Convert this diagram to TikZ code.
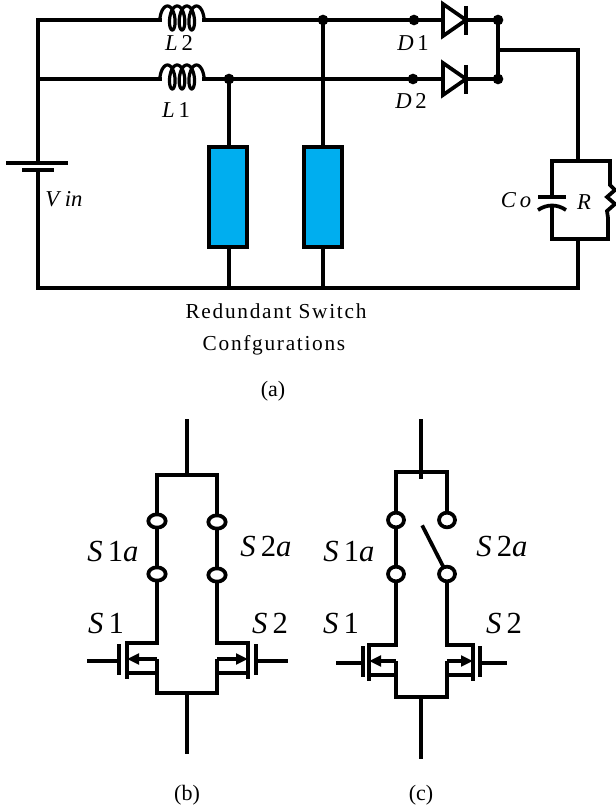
\documentclass[tikz,border=0pt]{standalone}
\usepackage{fontspec}
\setmainfont{Liberation Serif}
\usetikzlibrary{arrows.meta,shapes.geometric}

\definecolor{boxblue}{RGB}{0,174,239}
\tikzset{
  wire/.style={line width=2.8pt,line join=miter,line cap=rect},
  thinwire/.style={line width=2.6pt,line join=miter},
  dot/.style={circle,fill=black,inner sep=0pt,minimum size=8pt},
  redundant/.style={draw,line width=3pt,fill=boxblue,minimum width=28pt,minimum height=75pt,inner sep=0pt},
  pole/.style={ellipse,draw,line width=2.8pt,fill=white,inner sep=0pt,minimum width=13pt,minimum height=10pt},
  polec/.style={pole,minimum width=12pt,minimum height=11pt},
  coilwire/.style={line width=2.4pt,line join=round},
  lab/.style={inner sep=0pt,font=\fontsize{17pt}{20pt}\selectfont},
  big/.style={inner sep=0pt,font=\fontsize{23pt}{26pt}\selectfont},
  caption/.style={inner sep=0pt,font=\fontsize{16pt}{19pt}\selectfont},
  sublabel/.style={inner sep=0pt,font=\fontsize{16.5pt}{19pt}\selectfont}
}

\begin{document}
\begin{tikzpicture}[x=0.75pt,y=-0.75pt]
   \useasboundingbox (0,0) rectangle (616,812);

   % upper circuit
   \draw (229,79) node[dot] (j1) {};
   \draw (323,20) node[dot] (j2) {};
   \draw (414,20) node[dot] (d1in) {};
   \draw (413,79) node[dot] (d2in) {};
   \draw (498,20) node[dot] (d1out) {};
   \draw (498,79) node[dot] (d2out) {};
   \draw (228,197) node[redundant] (sw1) {};
   \draw (323,197) node[redundant] (sw2) {};
   \coordinate (tl) at (38,20);
   \coordinate (ml) at (38,79);
   \coordinate (bl) at (38,288);
   \coordinate (br) at (578,288);
   \coordinate (l2a) at (160,20);
   \coordinate (l2b) at (204,20);
   \coordinate (l1a) at (160,79);
   \coordinate (l1b) at (204,79);
   \coordinate (bat1) at (38,163);
   \coordinate (bat2) at (38,170);
   \coordinate (oa) at (499,50);
   \coordinate (ob) at (578,50);
   \coordinate (rct) at (578,161);
   \coordinate (rcb) at (578,239);

   % inductors
   \foreach \name/\y in {l2/20,l1/79} {
     \draw[coilwire] (\name a) -- plot[domain=-90:1170,samples=160,variable=\t]
       ({182+0.027*(\t-540)+5*sin(\t)},{\y-2-12*cos(\t)}) -- (\name b);
   }
   \draw[wire] (l2a) -- (tl) -- (bat1);
   \draw[wire] (ml) -- (l1a);
   \draw[wire] (l1b) -- (j1) -- (d2in);
   \draw[wire] (l2b) -- (j2) -- (d1in);
   \draw[wire] (j1) -- (sw1.north -| j1);
   \draw[wire] (j2) -- (sw2.north);
   \draw[wire] (sw1.south -| j1) -- (j1 |- bl);
   \draw[wire] (sw2.south) -- (j2 |- bl);
   \draw[wire] (bat2) -- (bl) -- (br) -- (rcb);
   \draw[wire] (d1out) -- (d2out);
   \draw[wire] (oa) -- (ob) -- (rct);

   % battery
   \draw[wire,line cap=butt] (6,163) -- (68,163);
   \draw[wire,line cap=butt] (22,170) -- (54,170);

   % diodes
   \foreach \name/\y in {d1/20,d2/79} {
     \coordinate (\name a) at (443,\y);
     \coordinate (\name k) at (466,\y);
     \draw[wire] (\name in) -- (\name a);
     \draw[wire] (\name k) -- (\name out);
     \draw[wire,fill=white] (443,\y-16) -- (\name k) -- (443,\y+16) -- cycle;
     \draw[wire,line cap=butt] (466,\y-14) -- (466,\y+15);
   }

   % load
   \coordinate (ct) at (552,161);
   \coordinate (cb) at (552,239);
   \coordinate (rt) at (610,161);
   \coordinate (rb) at (608,239);
   \coordinate (c1) at (552,197);
   \coordinate (c2) at (552,206);
   \draw[wire] (c1) -- (ct) -- (rt) -- (610,185) -- (615,190) -- (607,197) -- (615,204) -- (607,211) -- (608,218) -- (rb) -- (cb) -- (c2);
   \draw[wire,line cap=butt] (538,197) -- (566,197);
   \draw[wire,line cap=butt] (538,210) .. controls (547,204) and (557,204) .. (566,210);

   \draw (179,43) node[lab] (L2) {\textit{L}\,2};
   \draw (176,110) node[lab] (L1) {\textit{L}\,1};
   \draw (45,199) node[lab,anchor=west] (Vin) {\textit{V in}};
   \draw (413,43) node[lab] (D1) {\textit{D}\,1};
   \draw (411,101) node[lab] (D2) {\textit{D}\,2};
   \draw (516,200) node[lab] (Co) {\textit{C\,o}};
   \draw (584,202) node[lab] (R) {\textit{R}};
   \draw (276,311) node[caption] (cap1) {\addfontfeature{LetterSpace=8}Redundant Switch};
   \draw (274,345) node[caption] (cap2) {\addfontfeature{LetterSpace=8}Confgurations};
   \draw (273,391) node[sublabel] (capa) {(a)};

   % lower switches
   \foreach \name/\x/\y/\c/\g/\l in {sb1/157/643/-30/-38/-70,sb2/217/643/31/39/71,sc1/396/645/-27/-33/-60,sc2/447/645/26/33/60} {
     \coordinate (\name d) at (\x,\y);
     \coordinate (\name s) at (\x,\y+30);
     \coordinate (\name m) at (\x,\y+16);
     \draw[thinwire] (\name d) -- +(\c,0);
     \draw[thinwire] (\name m) -- (\name s) -- +(\c,0);
     \draw[wire,line cap=butt] (\x+\c,\y-2) -- (\x+\c,\y+36);
     \draw[wire,line cap=butt] (\x+\g,\y+1) -- (\x+\g,\y+32);
     \draw[thinwire] (\x+\g,\y+18) -- (\x+\l,\y+18);
     \draw[thinwire,-{Triangle[length=9pt,width=8pt]}] (\name m) -- +(\c,0);
   }

   \draw (157,521) node[pole] (b1u) {};
   \draw (157,574) node[pole] (b1d) {};
   \draw (217,522) node[pole] (b2u) {};
   \draw (217,575) node[pole] (b2d) {};
   \coordinate (btop) at (187,421);
   \coordinate (bbar) at (187,475);
   \coordinate (bend) at (187,752);
   \draw[wire] (btop) -- (bbar);
   \draw[wire] (b1u) -- (b1u |- bbar) -- (b2u |- bbar) -- (b2u);
   \draw[wire] (b1u) -- (b1d);
   \draw[wire] (b2u) -- (b2d);
   \draw[wire] (b1d) -- (sb1d);
   \draw[wire] (b2d) -- (sb2d);
   \draw[wire] (sb1s) -- (157,693) -- (217,693) -- (sb2s);
   \draw[wire] (187,693) -- (bend);

   \draw (396,520) node[polec] (c1u) {};
   \draw (396,574) node[polec] (c1d) {};
   \draw (447,520) node[polec] (c2u) {};
   \draw (447,574) node[polec] (c2d) {};
   \coordinate (ctop) at (421,421);
   \coordinate (cbar) at (421,477);
   \coordinate (cend) at (421,757);
   \coordinate (blade) at (423,527);
   \draw[wire] (ctop) -- (cbar);
   \draw[wire] (c1u) -- (396,472) -- (447,472) -- (c2u);
   \draw[wire] (c1u) -- (c1d);
   \draw[wire] (blade) -- (c2d);
   \draw[wire] (c1d) -- (sc1d);
   \draw[wire] (c2d) -- (sc2d);
   \draw[wire] (sc1s) -- (396,697) -- (447,697) -- (sc2s);
   \draw[wire] (421,697) -- (cend);

   \draw (113,551) node[big] (bS1a) {\textit{S}\,1\textit{a}};
   \draw (266,546) node[big] (bS2a) {\textit{S}\,2\textit{a}};
   \draw (106,623) node[big] (bS1) {\textit{S}\,1};
   \draw (270,623) node[big] (bS2) {\textit{S}\,2};
   \draw (349,551) node[big] (cS1a) {\textit{S}\,1\textit{a}};
   \draw (502,546) node[big] (cS2a) {\textit{S}\,2\textit{a}};
   \draw (341,623) node[big] (cS1) {\textit{S}\,1};
   \draw (504,623) node[big] (cS2) {\textit{S}\,2};
   \draw (187,795) node[sublabel] (capb) {(b)};
   \draw (421,795) node[sublabel] (capc) {(c)};
\end{tikzpicture}
\end{document}
